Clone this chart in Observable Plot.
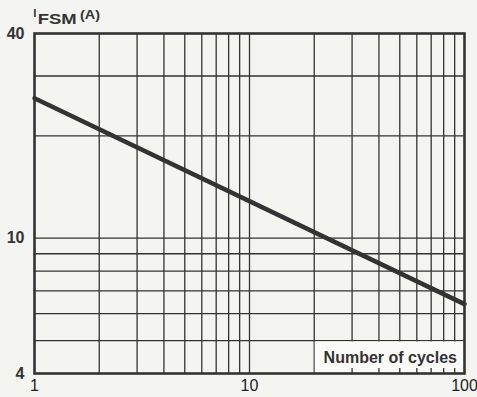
<!DOCTYPE html>
<html><head><meta charset="utf-8">
<script src="https://cdn.jsdelivr.net/npm/d3@7"></script>
<script src="https://cdn.jsdelivr.net/npm/@observablehq/plot@0.6"></script>
<style>
html,body{margin:0;padding:0;background:#f4f4f1;}
</style></head><body><div id="chart"></div>
<script>
// data
const cycles = [1, 100];
const current = [25.8, 6.4];
const xGrid = [2, 3, 4, 5, 6, 7, 8, 9, 10, 20, 30, 40, 50, 60, 70, 80, 90];
const yGrid = [5, 6, 7, 8, 9, 10, 20, 30];
const xTicks = [1, 10, 100];
const yTicks = [4, 10, 40];
const xStubs = [30, 40, 50, 60, 70, 80, 90];
const xLabel = "Number of cycles";
const labelBox = [{x1: 20, x2: 100, y1: 4, y2: 5}];

const ink = "#333";
const bg = "#f4f4f1";
const curve = cycles.map((c, i) => ({cycles: c, current: current[i]}));

const plot = Plot.plot({
  width: 477, height: 397,
  marginLeft: 34, marginRight: 13, marginTop: 33, marginBottom: 24,
  style: {background: bg, fontFamily: "'Liberation Sans', Arial, sans-serif", color: ink, overflow: "visible"},
  x: {type: "log", domain: [1, 100]},
  y: {type: "log", domain: [4, 40]},
  marks: [
    Plot.ruleX(xGrid, {stroke: ink, strokeWidth: 1.3}),
    Plot.ruleY(yGrid, {stroke: ink, strokeWidth: 1.3}),
    Plot.rect(labelBox, {x1: "x1", x2: "x2", y1: "y1", y2: "y2", fill: "#fbfbf9", insetLeft: 1, insetTop: 1.4}),
    Plot.ruleX(xStubs, {y1: 4, y2: 4, insetTop: -5, stroke: ink, strokeWidth: 1.3}),
    Plot.text([xLabel], {text: d => d, frameAnchor: "bottom-right", textAnchor: "end", lineAnchor: "middle", dx: -7.5, dy: -16, fontSize: 16, fontWeight: "bold", fill: ink}),
    Plot.line(curve, {x: "cycles", y: "current", stroke: ink, strokeWidth: 4.5}),
    Plot.frame({stroke: ink, strokeWidth: 2.6}),
    Plot.axisY(yTicks, {tickSize: 0, tickPadding: 10, fontSize: 16, fontWeight: "bold", tickFormat: d => String(d), fill: ink, label: null}),
    Plot.axisX(xTicks, {tickSize: 0, tickPadding: 6, fontSize: 16, tickFormat: d => String(d), fill: "#222", label: null})
  ]
});

document.getElementById("chart").appendChild(plot);

// axis title I_FSM (A)
const svg = d3.select(plot);
const t = svg.append("g").attr("fill", ink).attr("font-weight", "bold")
  .attr("text-anchor", "start")
  .attr("font-family", "'Liberation Sans', Arial, sans-serif");
t.append("text").attr("x", 33.3).attr("y", 17).attr("font-size", 11.5).text("I");
t.append("text").attr("x", 37.7).attr("y", 23.5).attr("font-size", 14).attr("textLength", 39).attr("lengthAdjust", "spacingAndGlyphs").text("FSM");
t.append("text").attr("x", 80).attr("y", 18.5).attr("font-size", 13.5).attr("textLength", 20).attr("lengthAdjust", "spacingAndGlyphs").text("(A)");
</script></body></html>
